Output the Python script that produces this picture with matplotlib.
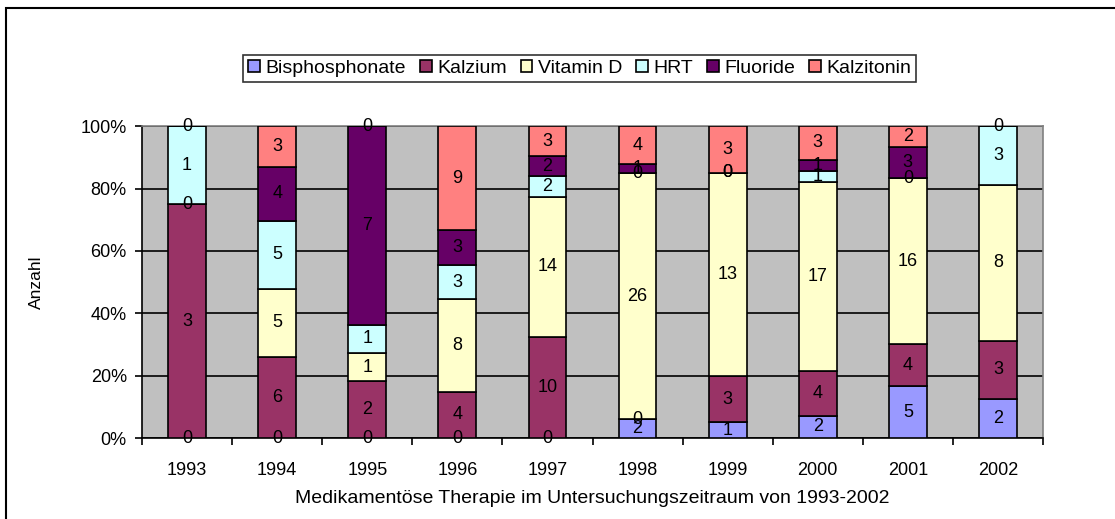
import numpy as np
import matplotlib
matplotlib.use('Agg')
from matplotlib import pyplot as plt
from matplotlib.patches import Rectangle

plt.rcParams['font.family'] = ['Liberation Sans', 'DejaVu Sans']

years = ['1993', '1994', '1995', '1996', '1997', '1998', '1999', '2000', '2001', '2002']
series = ['Bisphosphonate', 'Kalzium', 'Vitamin D', 'HRT', 'Fluoride', 'Kalzitonin']
colors = ['#9999FF', '#993366', '#FFFFCC', '#CCFFFF', '#660066', '#FF8080']

# nan = empty cell (no label shown)
bisphosphonate = [0, 0, 0, 0, 0, 2, 1, 2, 5, 2]
kalzium = [3, 6, 2, 4, 10, 0, 3, 4, 4, 3]
vitamin_d = [0, 5, 1, 8, 14, 26, 13, 17, 16, 8]
hrt = [1, 5, 1, 3, 2, 0, 0, 1, 0, 3]
fluoride = [0, 4, 7, 3, 2, 1, 0, 1, 3, np.nan]
kalzitonin = [np.nan, 3, 0, 9, 3, 4, 3, 3, 2, 0]

data = np.array([bisphosphonate, kalzium, vitamin_d, hrt, fluoride, kalzitonin], dtype=float)
vals = np.nan_to_num(data)
totals = vals.sum(axis=0)
pct = vals / totals * 100

fig = plt.figure(figsize=(11.15, 5.19), dpi=100)
ax = fig.add_axes([0.1274, 0.156, 0.808, 0.601])
ax.set_facecolor('#C0C0C0')

x = np.arange(len(years))
bottom = np.zeros(len(years))
for i, name in enumerate(series):
    ax.bar(x, pct[i], 0.42, bottom=bottom, color=colors[i], edgecolor='black',
           linewidth=1.2, label=name, zorder=3)
    for j in range(len(years)):
        if np.isnan(data[i, j]):
            continue
        ax.text(x[j], bottom[j] + pct[i, j] / 2, '%d' % data[i, j], ha='center',
                va='center', fontsize=13, color='black', zorder=4)
    bottom += pct[i]

ax.set_xlim(-0.5, len(years) - 0.5)
ax.set_ylim(0, 100)
ax.set_yticks(range(0, 101, 20))
ax.set_yticklabels(['%d%%' % v for v in range(0, 101, 20)], fontsize=13)
ax.set_xticks(x)
ax.set_xticklabels(years, fontsize=13)
ax.set_xticks(np.arange(-0.5, len(years), 1), minor=True)
ax.tick_params(axis='x', which='major', length=0, pad=17)
ax.tick_params(axis='x', which='minor', length=5, width=1.2, direction='out')
ax.tick_params(axis='y', length=5, width=1.2, direction='out', pad=6)
ax.yaxis.grid(True, color='black', linewidth=1.2, zorder=1)
ax.set_axisbelow(True)
for side in ['top', 'right']:
    ax.spines[side].set_color('#808080')
    ax.spines[side].set_linewidth(1.2)
for side in ['left', 'bottom']:
    ax.spines[side].set_color('black')
    ax.spines[side].set_linewidth(1.2)

ax.set_ylabel('Anzahl', fontsize=12.5, labelpad=26)
ax.set_xlabel('Medikamentöse Therapie im Untersuchungszeitraum von 1993-2002', fontsize=14, labelpad=8)

leg = fig.legend(loc='center', bbox_to_anchor=(0.520, 0.868), ncol=6, fontsize=14,
                 frameon=True, fancybox=False, edgecolor='black', handlelength=0.6,
                 handleheight=0.6, handletextpad=0.3, columnspacing=0.7,
                 borderpad=0.25, borderaxespad=0)
leg.get_frame().set_linewidth(1.2)

fig.patches.append(Rectangle((6 / 1115, -0.1), 1.2, 1 - 8 / 519 + 0.1,
                             transform=fig.transFigure, fill=False,
                             edgecolor='black', linewidth=1.5))

fig.savefig('out.png', dpi=100)
